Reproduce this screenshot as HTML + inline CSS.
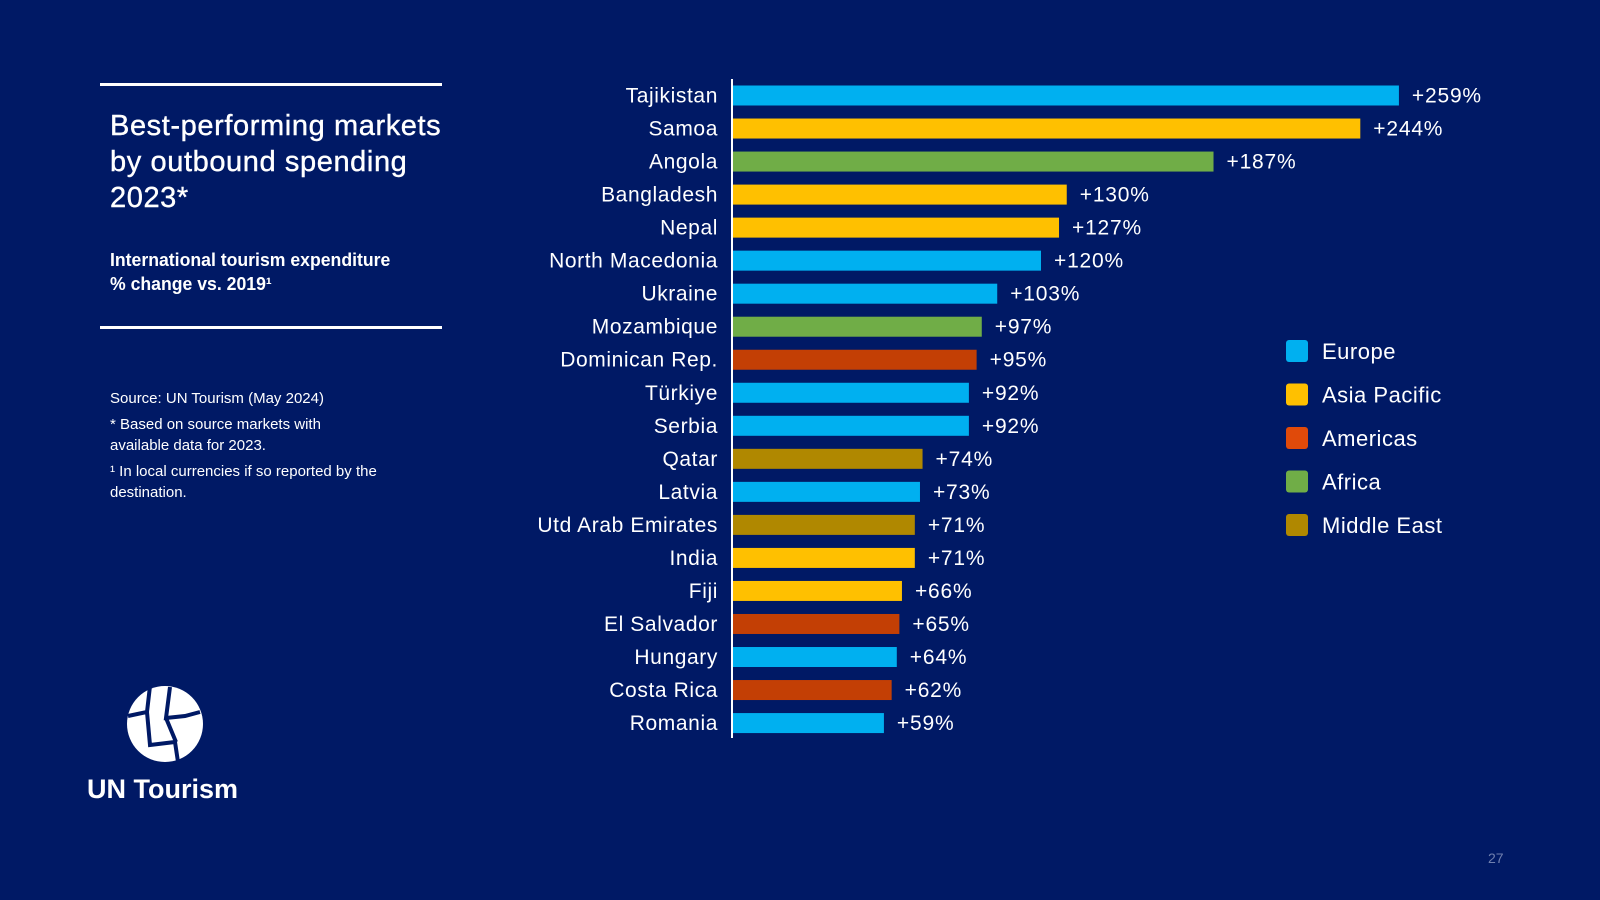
<!DOCTYPE html>
<html><head><meta charset="utf-8"><style>
html,body{margin:0;padding:0;background:#001965;}
#page{position:relative;width:1600px;height:900px;background:#001965;overflow:hidden;font-family:"Liberation Sans",sans-serif;color:#fff;}
.abs{position:absolute;}
</style></head><body>
<div id="page">
<div class="abs" style="left:100px;top:83px;width:342px;height:3px;background:#fff"></div>
<div class="abs" style="left:110px;top:108px;font-size:29px;line-height:36px;white-space:nowrap;letter-spacing:0.6px;-webkit-text-stroke:0.4px #fff">Best-performing markets<br>by outbound spending<br>2023*</div>
<div class="abs" style="left:110px;top:248px;font-size:18px;line-height:24px;font-weight:bold;transform:scaleX(0.98);transform-origin:left">International tourism expenditure<br>% change vs. 2019¹</div>
<div class="abs" style="left:100px;top:326px;width:342px;height:3px;background:#fff"></div>
<div class="abs" style="left:110px;top:388px;font-size:15px;line-height:21px;width:320px">Source: UN Tourism (May 2024)<div style="margin-top:5px">* Based on source markets with<br>available data for 2023.</div><div style="margin-top:5px">¹ In local currencies if so reported by the destination.</div></div>
<svg class="abs" style="left:0;top:0" width="1600" height="900">
<circle cx="165" cy="724" r="38" fill="#fff"/>
<path d="M150 686 L147 712 L128 716 M147 712 L150 745 L175 742 L178 762 M170 687 L166 718 L185 716 L200 712 M166 718 L176 742" stroke="#001965" stroke-width="4" fill="none"/>
</svg>
<div class="abs" style="left:87px;top:774px;font-size:27px;font-weight:bold">UN Tourism</div>
<div class="abs" style="left:1488px;top:850px;font-size:14px;color:#6f7fae">27</div>
<svg id="chart" class="abs" style="left:0;top:0" width="1600" height="900"></svg>
</div>
<script>
const categories=["Tajikistan","Samoa","Angola","Bangladesh","Nepal","North Macedonia","Ukraine","Mozambique","Dominican Rep.","Türkiye","Serbia","Qatar","Latvia","Utd Arab Emirates","India","Fiji","El Salvador","Hungary","Costa Rica","Romania"];
const values=[259,244,187,130,127,120,103,97,95,92,92,74,73,71,71,66,65,64,62,59];
const regions=["Europe","Asia Pacific","Africa","Asia Pacific","Asia Pacific","Europe","Europe","Africa","Americas","Europe","Europe","Middle East","Europe","Middle East","Asia Pacific","Asia Pacific","Americas","Europe","Americas","Europe"];
const legendNames=["Europe","Asia Pacific","Americas","Africa","Middle East"];
const colors={"Europe":"#00b0f0","Asia Pacific":"#ffc000","Americas":"#c33f05","Africa":"#70ad47","Middle East":"#b08800"};
const legendColors={"Europe":"#00b0f0","Asia Pacific":"#ffc000","Americas":"#e04a0a","Africa":"#70ad47","Middle East":"#b08800"};
const NS="http://www.w3.org/2000/svg";
const svg=document.getElementById('chart');
const x0=732,pxPer=2.575;
const xScale=v=>x0+v*pxPer;
const yTop=85.5,step=33.03,bh=20;
const yScale=i=>yTop+i*step;
function mk(t,a){const e=document.createElementNS(NS,t);for(const k in a)e.setAttribute(k,a[k]);svg.appendChild(e);return e;}
categories.forEach((c,i)=>{
  const y=yScale(i);
  const r=mk('rect',{x:x0,y:y,width:xScale(values[i])-x0,height:bh,fill:colors[regions[i]]});
  
  
  const t=mk('text',{x:718,y:y+bh/2+7,'text-anchor':'end','font-size':'21','letter-spacing':'0.6',fill:'#fff','font-family':'Liberation Sans, sans-serif'});
  t.textContent=c;
  
  
  const v=mk('text',{x:xScale(values[i])+13,y:y+bh/2+7,'font-size':'21','letter-spacing':'0.8',fill:'#fff','font-family':'Liberation Sans, sans-serif'});
  v.textContent='+'+values[i]+'%';
  
  
});
const ax=mk('line',{x1:x0,y1:79,x2:x0,y2:738,stroke:'#fff','stroke-width':2});


legendNames.forEach((n,i)=>{
  const cy=351+i*43.5;
  const s=mk('rect',{x:1286,y:cy-11,width:22,height:22,rx:3,fill:legendColors[n]});
  
  
  const t=mk('text',{x:1322,y:cy+8,'font-size':'22','letter-spacing':'0.5',fill:'#fff','font-family':'Liberation Sans, sans-serif'});
  t.textContent=n;
  
  
});
</script>
</body></html>
